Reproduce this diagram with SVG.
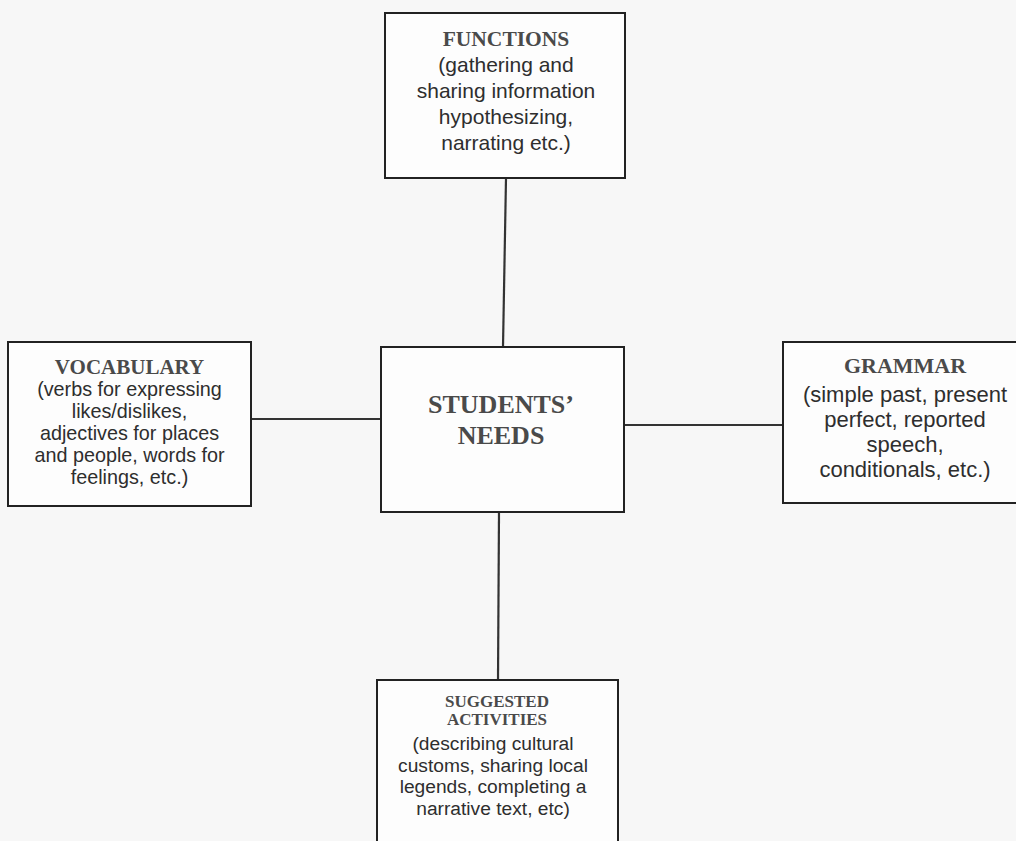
<svg xmlns="http://www.w3.org/2000/svg" width="1016" height="841" viewBox="0 0 1016 841">
<style>
.box{fill:#fdfdfd;stroke:#222;stroke-width:2}
.conn{stroke:#333;stroke-width:2.2;fill:none}
.title{font-family:"Liberation Serif","Times New Roman",serif;font-weight:bold;fill:#4a4a4a;text-anchor:middle}
.body{font-family:"Liberation Sans",Arial,sans-serif;fill:#2e2e2e;text-anchor:middle}
</style>
<rect width="1016" height="841" fill="#f7f7f7"/>
<g id="connectors">
<line class="conn" x1="506" y1="178" x2="503" y2="347"/>
<line class="conn" x1="251" y1="419" x2="381" y2="419"/>
<line class="conn" x1="624" y1="425" x2="783" y2="425"/>
<line class="conn" x1="499" y1="512" x2="498" y2="680"/>
</g>
<g id="functions">
<rect class="box" x="385" y="13" width="240" height="165"/>
<text class="title" x="506" y="46" font-size="21.5">FUNCTIONS</text>
<text class="body" x="506" y="72" font-size="21">(gathering and</text>
<text class="body" x="506" y="98" font-size="21">sharing information</text>
<text class="body" x="506" y="124" font-size="21">hypothesizing,</text>
<text class="body" x="506" y="150" font-size="21">narrating etc.)</text>
</g>
<g id="vocabulary">
<rect class="box" x="8" y="342" width="243" height="164"/>
<text class="title" x="129.5" y="374" font-size="21">VOCABULARY</text>
<text class="body" x="129.5" y="396" font-size="19.8">(verbs for expressing</text>
<text class="body" x="129.5" y="418" font-size="19.8">likes/dislikes,</text>
<text class="body" x="129.5" y="440" font-size="19.8">adjectives for places</text>
<text class="body" x="129.5" y="462" font-size="19.8">and people, words for</text>
<text class="body" x="129.5" y="484" font-size="19.8">feelings, etc.)</text>
</g>
<g id="students-needs">
<rect class="box" x="381" y="347" width="243" height="165"/>
<text class="title" x="501" y="413" font-size="26">STUDENTS’</text>
<text class="title" x="501" y="444" font-size="26">NEEDS</text>
</g>
<g id="grammar">
<rect class="box" x="783" y="342" width="246" height="161"/>
<text class="title" x="905" y="373" font-size="22">GRAMMAR</text>
<text class="body" x="905" y="402" font-size="22">(simple past, present</text>
<text class="body" x="905" y="427" font-size="22">perfect, reported</text>
<text class="body" x="905" y="452" font-size="22">speech,</text>
<text class="body" x="905" y="477" font-size="22">conditionals, etc.)</text>
</g>
<g id="suggested-activities">
<rect class="box" x="377" y="680" width="241" height="175"/>
<text class="title" x="497" y="707" font-size="17">SUGGESTED</text>
<text class="title" x="497" y="725" font-size="17">ACTIVITIES</text>
<text class="body" x="493" y="750" font-size="19.2">(describing cultural</text>
<text class="body" x="493" y="772" font-size="19.2">customs, sharing local</text>
<text class="body" x="493" y="793" font-size="19.2">legends, completing a</text>
<text class="body" x="493" y="815" font-size="19.2">narrative text, etc)</text>
</g>
</svg>
